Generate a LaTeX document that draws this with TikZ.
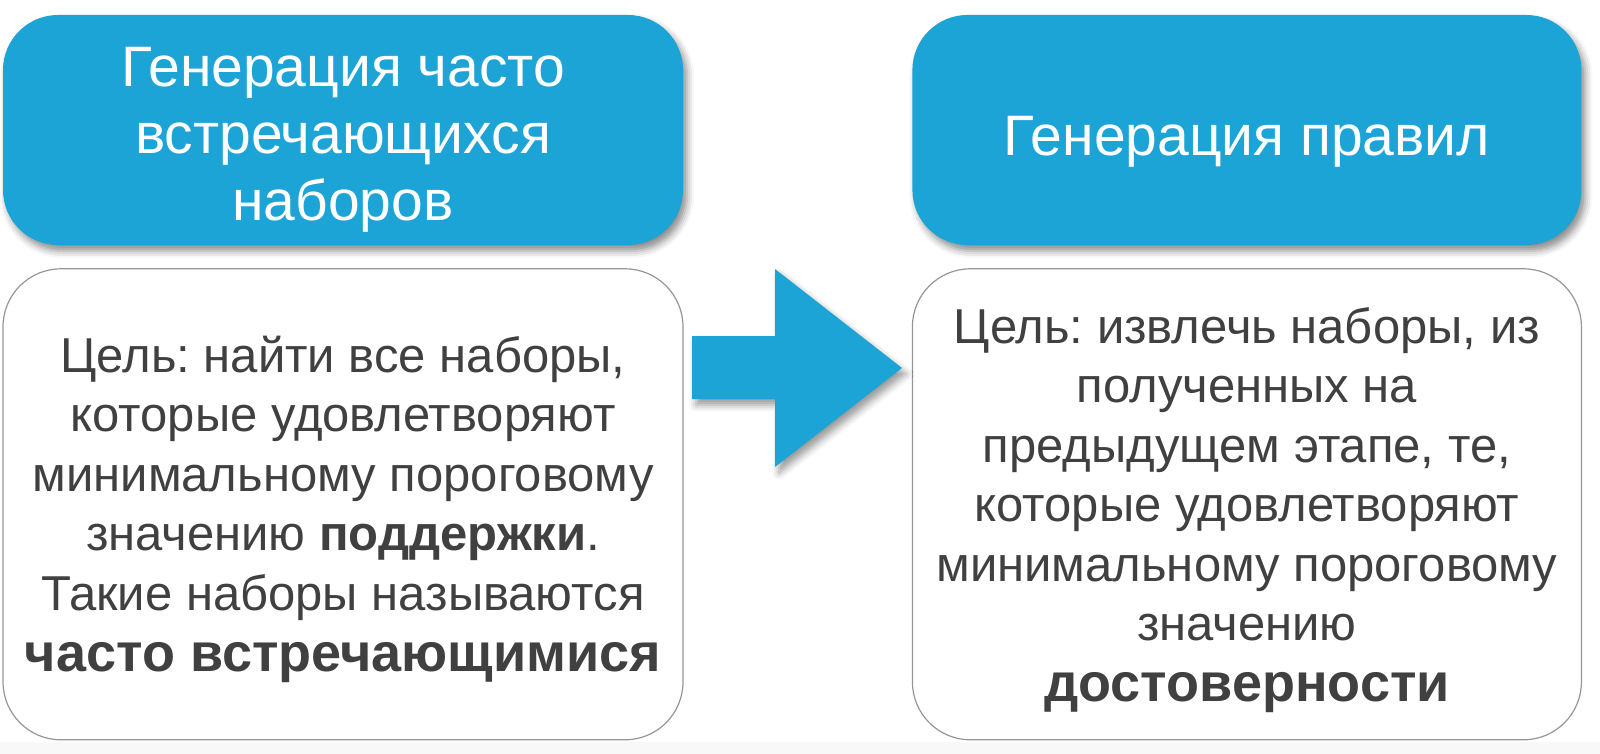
\documentclass[tikz,border=0pt]{standalone}
\usepackage{fontspec}
\setmainfont{Liberation Sans}
\usepackage{tikz}
\usepackage{xcolor}
\usetikzlibrary{positioning, shadows.blur}
\definecolor{stageblue}{RGB}{29,164,214}
\definecolor{textgray}{RGB}{64,64,64}
\definecolor{framegray}{RGB}{150,150,150}
\definecolor{bandgray}{RGB}{248,248,248}
\frenchspacing
\newcommand{\liftline}[1]{\rule{0pt}{#1}}
\tikzset{
  stagebox/.style={rectangle, rounded corners=55pt, fill=stageblue, text=white,
    align=center, inner sep=0pt, font=\fontsize{57}{67}\selectfont,
    blur shadow={shadow xshift=4pt, shadow yshift=-6pt, shadow blur radius=7pt, shadow opacity=45}},
  goalbox/.style={rectangle, rounded corners=58pt, draw=framegray, line width=1.2pt,
    fill=white, text=textgray, align=center, inner sep=0pt,
    font=\fontsize{49}{59.5}\selectfont},
}

\begin{document}
\begin{tikzpicture}[x=1pt, y=-1pt]
  \useasboundingbox (0,0) rectangle (1600,754);
  \fill[bandgray] (0,742) rectangle (1600,754);

  \node[stagebox, minimum width=680pt, minimum height=230pt] (genfreq) at (343,130)
    {\liftline{58pt}Генерация часто\\встречающихся\\наборов};
  \node[goalbox, minimum width=680pt, minimum height=471pt, below=23pt of genfreq] (goalfreq)
    {\liftline{47pt}Цель: найти все наборы,\\которые удовлетворяют\\минимальному пороговому\\значению {\bfseries поддержки}.\\Такие наборы называются\\[2pt]{\fontsize{54}{60}\selectfont\bfseries часто встречающимися}};
  \node[stagebox, minimum width=669pt, minimum height=230pt, right=229pt of genfreq] (genrules)
    {\liftline{62pt}Генерация правил};
  \node[goalbox, minimum width=669pt, minimum height=471pt, below=23pt of genrules] (goalrules)
    {\liftline{47pt}Цель: извлечь наборы, из\\полученных на\\предыдущем этапе, те,\\которые удовлетворяют\\минимальному пороговому\\значению\\[1pt]{\fontsize{54}{60}\selectfont\bfseries достоверности}};

  \fill[stageblue, blur shadow={shadow xshift=4pt, shadow yshift=-6pt, shadow blur radius=7pt, shadow opacity=40}]
    (692,336) -- (775,336) -- (775,269) -- (902,368) -- (775,467) -- (775,399) -- (692,399) -- cycle;
\end{tikzpicture}
\end{document}
